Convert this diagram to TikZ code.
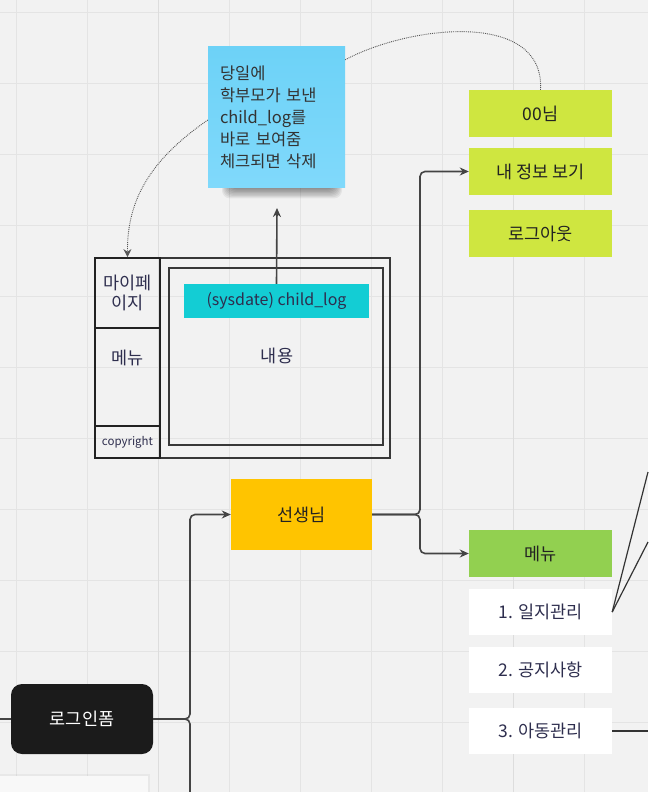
\documentclass[tikz,border=0pt]{standalone}
\usepackage{fontspec}
\setmainfont{Noto Sans CJK KR}
\usetikzlibrary{arrows.meta,calc}
\definecolor{bgc}{HTML}{F2F2F2}
\definecolor{gridc}{HTML}{E4E4E4}
\definecolor{gridm}{HTML}{DDDDDD}
\definecolor{linec}{HTML}{444444}
\definecolor{lime}{HTML}{CFE640}
\definecolor{leaf}{HTML}{92D050}
\definecolor{amber}{HTML}{FFC400}
\definecolor{cyanbar}{HTML}{13CDD4}
\definecolor{navy}{HTML}{2E2E4E}
\definecolor{inkc}{HTML}{222222}
\definecolor{notetop}{HTML}{6DD2F7}
\definecolor{notebot}{HTML}{80D9FB}
\definecolor{cardc}{HTML}{F8F8F8}
\definecolor{notetext}{HTML}{333333}
\definecolor{darkbox}{HTML}{1B1B1B}
\definecolor{thinline}{HTML}{333333}
\tikzset{
  lbl/.style={font=\fontsize{17.5}{20}\selectfont, text=inkc},
  box/.style={lbl, draw=none, minimum width=143pt, minimum height=47pt, inner sep=0pt},
  limebox/.style={box, fill=lime},
  whitebox/.style={box, fill=white, text=navy, minimum height=46pt},
  conn/.style={draw=linec, line width=1.6pt},
  tip/.style={-{Stealth[length=9pt,width=8pt]}},
  dots/.style={draw=linec!90, line width=0.9pt, densely dotted},
  frame/.style={draw=inkc!90, line width=1.8pt},
}
\begin{document}
\begin{tikzpicture}[x=1pt,y=-1pt]
\fill[bgc] (0,0) rectangle (648,792);
\useasboundingbox (0,0) rectangle (648,792);
% grid
\foreach \i in {0,...,8} {\draw[gridc, line width=1pt] ({16.5+71*\i},0) -- ({16.5+71*\i},792);}
\foreach \i in {0,...,10} {\draw[gridc, line width=1pt] (0,{12.5+71*\i}) -- (648,{12.5+71*\i});}
\foreach \xx in {158.5,513.5} {\draw[gridm, line width=1.4pt] (\xx,0) -- (\xx,792);}

% bottom-left partial card
\fill[black,opacity=0.04] (0,774) rectangle (150,792);
\fill[cardc] (0,776) rectangle (148,792);

% sticky note shadow
\foreach \k in {1,...,8} {
  \fill[black, opacity=0.06, rounded corners=8pt] ({230-\k},{174+\k*0.5}) rectangle ({334+\k},{188+\k*1.3});
}
\node[draw=none, top color=notetop, bottom color=notebot, minimum width=137pt, minimum height=140pt,
      text width=113pt, align=left, inner sep=0pt, text=notetext,
      font=\fontsize{16.5}{22}\selectfont] (note) at (276.5,117)
      {당일에\\학부모가 보낸\\child\_log를\\바로 보여줌\\체크되면 삭제};

% my page frame
\node[frame, minimum width=295pt, minimum height=200pt, inner sep=0pt] (outer) at (242.5,358) {};
\node[frame, minimum width=214pt, minimum height=177pt, inner sep=0pt] (inner) at (276,356.5) {};
\node[frame, draw=inkc, minimum width=65pt, minimum height=70pt, inner sep=0pt, align=center,
      text=navy, font=\fontsize{17.5}{20}\selectfont] (mpage) at (127.5,293) {마이페\\이지};
\node[frame, draw=inkc, minimum width=65pt, minimum height=98pt, inner sep=0pt] (mcell) at (127.5,377) {};
\node[text=navy, font=\fontsize{17.5}{20}\selectfont, inner sep=0pt] (mtext) at (127.5,358) {메뉴};
\node[frame, draw=inkc, minimum width=65pt, minimum height=32pt, inner sep=0pt,
      text=navy, font=\fontsize{11.5}{13}\selectfont] (copy) at (127.5,442) {copyright};
\node[fill=cyanbar, minimum width=185pt, minimum height=34pt, inner sep=0pt, text=navy,
      font=\fontsize{16}{18}\selectfont] (bar) at (276.5,301) {(sysdate) child\_log};
\node[text=navy, font=\fontsize{17.5}{20}\selectfont, inner sep=0pt] (content) at (277,356) {내용};

% right boxes
\node[limebox] (n00) at (540.5,113.5) {00님};
\node[limebox] (info) at (540.5,171.5) {내 정보 보기};
\node[limebox] (logout) at (540.5,233.5) {로그아웃};
\node[box, fill=amber, minimum width=141pt, minimum height=71pt] (teacher) at (301.5,514.5) {선생님};
\node[box, fill=leaf] (menu) at (540.5,553.5) {메뉴};
\node[whitebox] (log) at (540.5,612) {1. 일지관리};
\node[whitebox] (notice) at (540.5,670) {2. 공지사항};
\node[whitebox] (child) at (540.5,731) {3. 아동관리};
\node[box, fill=darkbox, text=white, minimum width=142pt, minimum height=70pt,
      rounded corners=11pt] (login) at (82,719) {로그인폼};

% coordinates for free ends
\coordinate (lstub) at (0,719);
\coordinate (bot) at (190,792);
\coordinate (up) at (277,208);
\coordinate (r1) at (648,472);
\coordinate (r2) at (648,542);
\coordinate (r3) at (648,731);

% connectors
\draw[conn] (lstub) -- (login.west);
\draw[conn, tip, rounded corners=5pt] (login.east) -- (190,719) -- (190,514.5) -- (teacher.west);
\draw[conn, rounded corners=5pt] (login.east) -- (190,719) -- (bot);
\draw[conn, tip, rounded corners=5pt] (teacher.east) -- (420,514.5) -- (420,171.5) -- (info.west);
\draw[conn, tip, rounded corners=5pt] (teacher.east) -- (420,514.5) -- (420,553.5) -- (menu.west);
\draw[conn, tip] (bar.north) -- (up);
\draw[draw=thinline, line width=1.2pt] (log.east) -- (r1);
\draw[draw=thinline, line width=1.2pt] (log.east) -- (r2);
\draw[draw=thinline, line width=1.2pt] (child.east) -- (r3);

% dotted curves
\draw[dots] ($(note.north east)+(0,13)$) .. controls (410,25) and (545,10) .. (n00.north);
\draw[dots, -{Stealth[length=8pt,width=8pt]}] ($(note.west)+(0,3)$) .. controls (150,160) and (127,200) .. (mpage.north);
\end{tikzpicture}
\end{document}
